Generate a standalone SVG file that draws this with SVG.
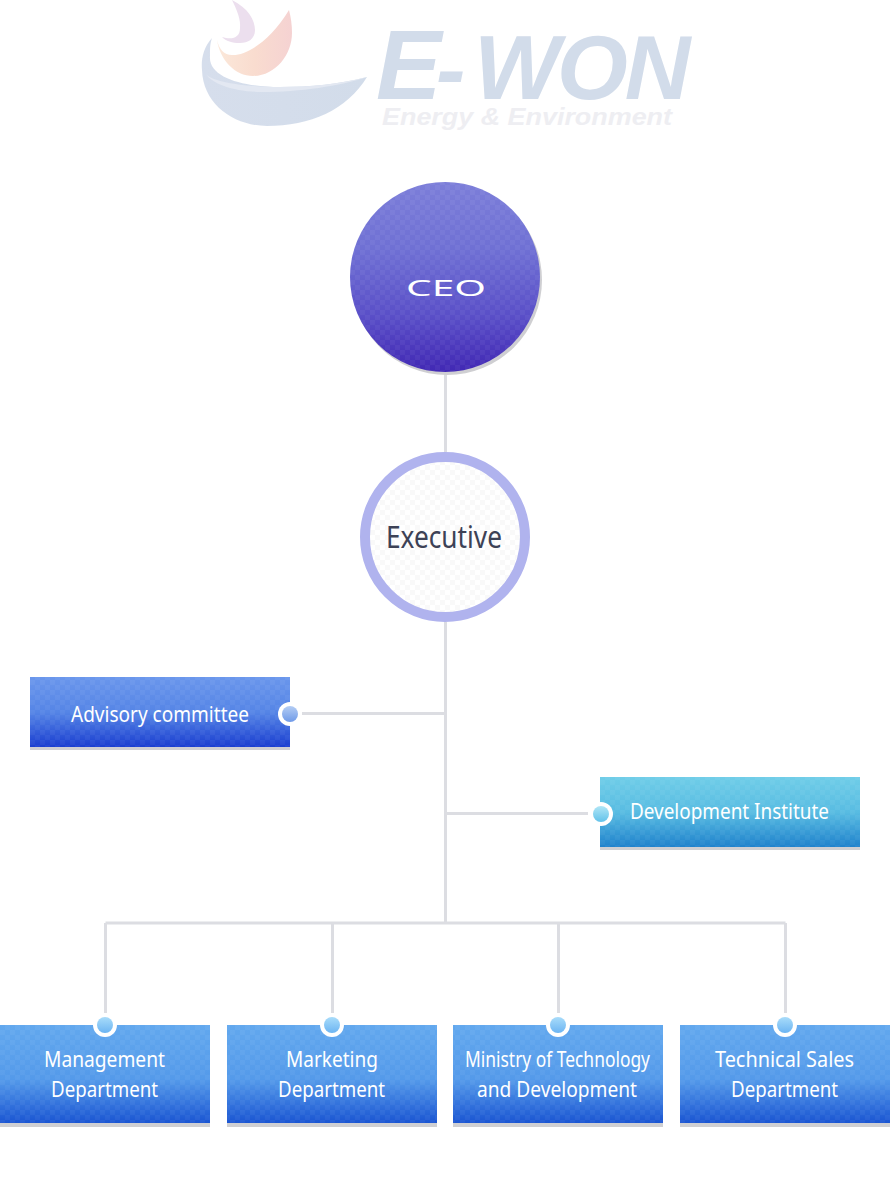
<svg xmlns="http://www.w3.org/2000/svg" width="890" height="1200" viewBox="0 0 890 1200">
<style>
.t{font-family:"Noto Sans","Open Sans","Liberation Sans",sans-serif;fill:#fff;font-size:22px;text-anchor:middle}
.ln{stroke:#dcdde2;stroke-width:3;fill:none}
.bar{fill:#cfcfd2}
.ring{fill:#fff}
.logo{font-family:"Liberation Sans",Arial,sans-serif;font-weight:bold;font-style:italic}
</style>
<defs>
<pattern id="chk" width="10" height="10" patternUnits="userSpaceOnUse">
<rect x="0" y="0" width="5" height="5" fill="#fff" fill-opacity=".045"/>
<rect x="5" y="5" width="5" height="5" fill="#fff" fill-opacity=".045"/>
</pattern>
<pattern id="chk2" width="10" height="10" patternUnits="userSpaceOnUse">
<rect width="10" height="10" fill="#fff"/>
<rect x="0" y="0" width="5" height="5" fill="#f9f9f9"/>
<rect x="5" y="5" width="5" height="5" fill="#f9f9f9"/>
</pattern>
<linearGradient id="gCeo" x1="0" y1="0" x2="0" y2="1"><stop offset="0" stop-color="#7c7ed9"/><stop offset=".35" stop-color="#6f70d4"/><stop offset=".7" stop-color="#5a4fc8"/><stop offset="1" stop-color="#4128b4"/></linearGradient>
<linearGradient id="gAdv" x1="0" y1="0" x2="0" y2="1"><stop offset="0" stop-color="#6a96ec"/><stop offset=".5" stop-color="#5585e6"/><stop offset="1" stop-color="#1a3ed0"/></linearGradient>
<linearGradient id="gDev" x1="0" y1="0" x2="0" y2="1"><stop offset="0" stop-color="#6fcde8"/><stop offset=".5" stop-color="#58bce2"/><stop offset="1" stop-color="#1f82cc"/></linearGradient>
<linearGradient id="gDep" x1="0" y1="0" x2="0" y2="1"><stop offset="0" stop-color="#62a8ee"/><stop offset=".55" stop-color="#549aea"/><stop offset="1" stop-color="#1a55d2"/></linearGradient>
<linearGradient id="dAdv" x1="0" y1="0" x2="0" y2="1"><stop offset="0" stop-color="#b4cdf4"/><stop offset="1" stop-color="#6f9ae8"/></linearGradient>
<linearGradient id="dDev" x1="0" y1="0" x2="0" y2="1"><stop offset="0" stop-color="#b0e6f6"/><stop offset="1" stop-color="#62c2ea"/></linearGradient>
<linearGradient id="dDep" x1="0" y1="0" x2="0" y2="1"><stop offset="0" stop-color="#a8dcfa"/><stop offset="1" stop-color="#6cb4f2"/></linearGradient>
<linearGradient id="gFlame" x1="0" y1="0" x2="1" y2="0"><stop offset="0" stop-color="#fbe8da"/><stop offset=".5" stop-color="#f9dccf"/><stop offset="1" stop-color="#f5d2d2"/></linearGradient>
<linearGradient id="gBowl" x1="0" y1="0" x2="1" y2="0"><stop offset="0" stop-color="#d6deec"/><stop offset="1" stop-color="#d2dcea"/></linearGradient>
</defs>

<g id="logo">
<path d="M212 38C203 48 201 60 202 70C203 105 235 126 267 126C310 126 347 110 367 77C340 84 310 87 280 87C245 87 208 78 210 56C210 48 210 44 212 38Z" fill="url(#gBowl)"/>
<path d="M367 77C340 86 300 92 262 92C235 92 212 84 206 74C212 82 245 87 280 87C310 87 340 84 367 77Z" fill="#e3e8f2"/>
<path d="M289 10C270 42 245 56 232 55C224 55 219 49 217 40C220 60 235 76 253 76C275 76 292 55 292 33C292 25 291 18 289 10Z" fill="url(#gFlame)"/>
<path d="M232 0C248 8 255 20 255 30C255 39 248 43 240 43C232 43 226 41 222 37C232 40 240 38 240 28C241 20 237 10 232 0Z" fill="#ecdfee"/>
<text class="logo" y="99" fill="#d2dcea"><tspan x="376" font-size="98">E</tspan><tspan x="436" font-size="88">-</tspan><tspan x="474" font-size="91" letter-spacing="-3">WON</tspan></text>
<text class="logo" x="382" y="125" font-size="23" fill="#eeeef2" textLength="290" lengthAdjust="spacingAndGlyphs">Energy &amp; Environment</text>
</g>

<g id="connectors">
<path class="ln" d="M445.5 372V452M445.5 622V923M302 713.5H445.5M447 813.5H588M105.5 923H785.5M105.5 923V1013M332.5 923V1013M558.5 923V1013M785.5 923V1013"/>
</g>

<g id="ceo">
<circle cx="447" cy="280" r="95" fill="#cfcfd2"/>
<circle cx="445" cy="277" r="95" fill="url(#gCeo)"/>
<circle cx="445" cy="277" r="95" fill="url(#chk)"/>
<text class="t" x="446" y="296" font-size="46" textLength="80" lengthAdjust="spacingAndGlyphs">CEO</text>
</g>

<g id="executive">
<circle cx="445" cy="537" r="80" fill="url(#chk2)" stroke="#b0b3ee" stroke-width="10"/>
<text class="t" x="444" y="548" style="fill:#3d4256;font-size:31px" textLength="116" lengthAdjust="spacingAndGlyphs">Executive</text>
</g>

<g id="advisory">
<rect x="30" y="747" width="260" height="3" class="bar"/>
<rect x="30" y="677" width="260" height="70" fill="url(#gAdv)"/>
<rect x="30" y="677" width="260" height="70" fill="url(#chk)"/>
<circle cx="290" cy="714" r="12" class="ring"/>
<circle cx="290" cy="714" r="8" fill="url(#dAdv)"/>
<text class="t" x="160" y="722" textLength="178" lengthAdjust="spacingAndGlyphs">Advisory committee</text>
</g>

<g id="development">
<rect x="600" y="847" width="260" height="3" class="bar"/>
<rect x="600" y="777" width="260" height="70" fill="url(#gDev)"/>
<rect x="600" y="777" width="260" height="70" fill="url(#chk)"/>
<circle cx="601" cy="814" r="12" class="ring"/>
<circle cx="601" cy="814" r="8" fill="url(#dDev)"/>
<text class="t" x="729.500" y="819" textLength="199" lengthAdjust="spacingAndGlyphs">Development Institute</text>
</g>

<g id="management">
<rect x="0" y="1123" width="210" height="4" class="bar"/>
<rect x="0" y="1025" width="210" height="98" fill="url(#gDep)"/>
<rect x="0" y="1025" width="210" height="98" fill="url(#chk)"/>
<circle cx="105" cy="1025" r="12" class="ring"/>
<circle cx="105" cy="1025" r="8" fill="url(#dDep)"/>
<text class="t" x="104.500" y="1067" textLength="121" lengthAdjust="spacingAndGlyphs">Management</text>
<text class="t" x="104.500" y="1097" textLength="107" lengthAdjust="spacingAndGlyphs">Department</text>
</g>

<g id="marketing">
<rect x="227" y="1123" width="210" height="4" class="bar"/>
<rect x="227" y="1025" width="210" height="98" fill="url(#gDep)"/>
<rect x="227" y="1025" width="210" height="98" fill="url(#chk)"/>
<circle cx="332" cy="1025" r="12" class="ring"/>
<circle cx="332" cy="1025" r="8" fill="url(#dDep)"/>
<text class="t" x="332" y="1067" textLength="92" lengthAdjust="spacingAndGlyphs">Marketing</text>
<text class="t" x="331.500" y="1097" textLength="107" lengthAdjust="spacingAndGlyphs">Department</text>
</g>

<g id="technology">
<rect x="453" y="1123" width="210" height="4" class="bar"/>
<rect x="453" y="1025" width="210" height="98" fill="url(#gDep)"/>
<rect x="453" y="1025" width="210" height="98" fill="url(#chk)"/>
<circle cx="558" cy="1025" r="12" class="ring"/>
<circle cx="558" cy="1025" r="8" fill="url(#dDep)"/>
<text class="t" x="557.500" y="1067" textLength="185" lengthAdjust="spacingAndGlyphs">Ministry of Technology</text>
<text class="t" x="557" y="1097" textLength="160" lengthAdjust="spacingAndGlyphs">and Development</text>
</g>

<g id="sales">
<rect x="680" y="1123" width="210" height="4" class="bar"/>
<rect x="680" y="1025" width="210" height="98" fill="url(#gDep)"/>
<rect x="680" y="1025" width="210" height="98" fill="url(#chk)"/>
<circle cx="785" cy="1025" r="12" class="ring"/>
<circle cx="785" cy="1025" r="8" fill="url(#dDep)"/>
<text class="t" x="784.500" y="1067" textLength="139" lengthAdjust="spacingAndGlyphs">Technical Sales</text>
<text class="t" x="784.500" y="1097" textLength="107" lengthAdjust="spacingAndGlyphs">Department</text>
</g>
</svg>
